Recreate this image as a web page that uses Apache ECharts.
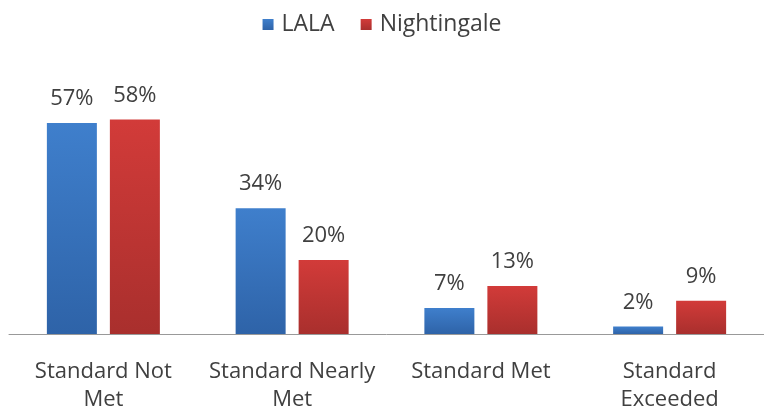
<!DOCTYPE html>
<html><head><meta charset="utf-8">
<script src="https://cdn.jsdelivr.net/npm/echarts@6/dist/echarts.min.js"></script>
<style>html,body{margin:0;padding:0;background:#fff}#c{width:764px;height:415px}</style>
</head><body><div id="c"></div>
<script>
const categories = ['Standard Not\nMet', 'Standard Nearly\nMet', 'Standard Met', 'Standard\nExceeded'];
const lalaValues = [57, 34, 7, 2];
const nightingaleValues = [58, 20, 13, 9];
const seriesNames = ['LALA', 'Nightingale'];

const font = '"Open Sans", sans-serif';
function grad(top, bottom) {
  return new echarts.graphic.LinearGradient(0, 0, 0, 1, [
    {offset: 0, color: top}, {offset: 1, color: bottom}
  ]);
}
const chart = echarts.init(document.getElementById('c'), null, {renderer: 'canvas'});
chart.setOption({
  animation: false,
  legend: {
    top: 8, left: 'center', itemWidth: 11, itemHeight: 11, itemGap: 26,
    icon: 'rect',
    textStyle: {fontFamily: font, fontSize: 23, color: '#404040', padding: [2, 0, 0, 3]},
    data: seriesNames
  },
  grid: {left: 9, width: 760, top: 112, bottom: 81},
  xAxis: {
    type: 'category', data: categories,
    axisLine: {lineStyle: {color: '#999', width: 1}},
    axisTick: {show: false},
    axisLabel: {fontFamily: font, fontSize: 22, color: '#404040', margin: 24, lineHeight: 28, interval: 0}
  },
  yAxis: {type: 'value', min: 0, max: 60, show: false, splitLine: {show: false}},
  series: [
    {
      name: seriesNames[0], type: 'bar', data: lalaValues, barWidth: 50, barGap: '26%',
      itemStyle: {color: grad('#3f7fcc', '#2e63a8')},
      label: {show: true, position: 'top', distance: 13, formatter: '{c}%', fontFamily: font, fontSize: 22, color: '#404040'}
    },
    {
      name: seriesNames[1], type: 'bar', data: nightingaleValues, barWidth: 50,
      itemStyle: {color: grad('#d23b39', '#a92f2d')},
      label: {show: true, position: 'top', distance: 13, formatter: '{c}%', fontFamily: font, fontSize: 22, color: '#404040'}
    }
  ]
});
</script></body></html>
